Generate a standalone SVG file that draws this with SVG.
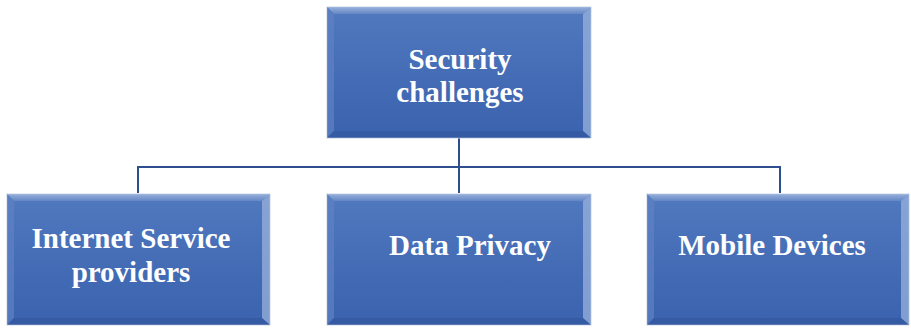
<svg xmlns="http://www.w3.org/2000/svg" width="911" height="328" viewBox="0 0 911 328">
<defs>
<linearGradient id="fill" x1="0" y1="0" x2="0" y2="1">
<stop offset="0" stop-color="#5079bf"/>
<stop offset="1" stop-color="#3a62ae"/>
</linearGradient>
<linearGradient id="topb" x1="0" y1="0" x2="0" y2="1">
<stop offset="0" stop-color="#a3badf"/>
<stop offset="1" stop-color="#6889c6"/>
</linearGradient>
<style>
.box{fill:url(#fill);stroke:#c9d3e6;stroke-width:1}
.bt{fill:url(#topb);opacity:0.85}
.bl{fill:#5f82c2;opacity:0.7}
.br{fill:#9ab2dc;opacity:0.75}
.bb{fill:#2f5296;opacity:0.45}
.t{font-family:"Liberation Serif","Times New Roman",serif;font-weight:bold;font-size:29px;fill:#ffffff;text-anchor:middle}
.c{fill:none;stroke:#2e4f8e;stroke-width:2}
</style>
</defs>
<g id="connectors">
<path class="c" d="M459 138 V167 M138 193 V167 H780 V193 M459 167 V193"/>
</g>
<g id="node-security">
<rect class="box" x="327" y="7" width="264" height="131"/>
<polygon class="bt" points="327,7 591,7 583,14 334,14"/>
<polygon class="bl" points="327,7 334,14 334,131 327,138"/>
<polygon class="br" points="591,7 583,14 583,131 591,138"/>
<polygon class="bb" points="327,138 334,131 583,131 591,138"/>
<text class="t" x="460" y="69">Security</text>
<text class="t" x="460" y="102">challenges</text>
</g>
<g id="node-isp">
<rect class="box" x="7" y="194" width="263" height="131"/>
<polygon class="bt" points="7,194 270,194 262,201 14,201"/>
<polygon class="bl" points="7,194 14,201 14,318 7,325"/>
<polygon class="br" points="270,194 262,201 262,318 270,325"/>
<polygon class="bb" points="7,325 14,318 262,318 270,325"/>
<text class="t" x="131" y="248">Internet Service</text>
<text class="t" x="131" y="282">providers</text>
</g>
<g id="node-privacy">
<rect class="box" x="327" y="194" width="264" height="131"/>
<polygon class="bt" points="327,194 591,194 583,201 334,201"/>
<polygon class="bl" points="327,194 334,201 334,318 327,325"/>
<polygon class="br" points="591,194 583,201 583,318 591,325"/>
<polygon class="bb" points="327,325 334,318 583,318 591,325"/>
<text class="t" x="470" y="255">Data Privacy</text>
</g>
<g id="node-mobile">
<rect class="box" x="647" y="194" width="262" height="131"/>
<polygon class="bt" points="647,194 909,194 901,201 654,201"/>
<polygon class="bl" points="647,194 654,201 654,318 647,325"/>
<polygon class="br" points="909,194 901,201 901,318 909,325"/>
<polygon class="bb" points="647,325 654,318 901,318 909,325"/>
<text class="t" x="772" y="255">Mobile Devices</text>
</g>
</svg>
